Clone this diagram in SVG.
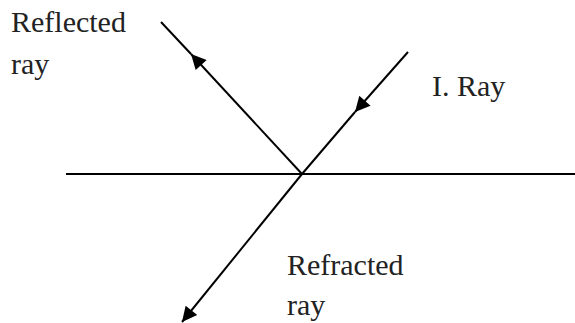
<svg xmlns="http://www.w3.org/2000/svg" width="575" height="323" viewBox="0 0 575 323">
  <style>
    .ray { stroke: #000; stroke-width: 2; fill: none; }
    .surface { stroke: #000; stroke-width: 2.2; fill: none; }
    text { font-family: "Liberation Serif", serif !important; font-size: 30px; fill: #222; }
  </style>
  <defs>
    <marker id="arrow" viewBox="0 0 10 10" refX="10" refY="5" markerUnits="userSpaceOnUse" markerWidth="19" markerHeight="15" orient="auto">
      <path d="M0,0 L10,5 L0,10 z" fill="#000"/>
    </marker>
  </defs>
  <rect width="575" height="323" fill="#fff"/>
  <g id="surface">
    <line class="surface" x1="66" y1="174" x2="575" y2="174"/>
  </g>
  <g id="connectors">
    <line class="ray" x1="408" y1="52" x2="355" y2="112" marker-end="url(#arrow)"/>
    <line class="ray" x1="355" y1="112" x2="302" y2="174"/>
    <line class="ray" x1="302" y1="174" x2="191" y2="54" marker-end="url(#arrow)"/>
    <line class="ray" x1="191" y1="54" x2="161" y2="22"/>
    <line class="ray" x1="302" y1="174" x2="182" y2="322" marker-end="url(#arrow)"/>
  </g>
  <g id="label-reflected">
    <text x="11" y="32" font-family="Liberation Serif">Reflected</text>
    <text x="11" y="74" font-family="Liberation Serif">ray</text>
  </g>
  <g id="label-incident">
    <text x="432" y="96" font-family="Liberation Serif">I. Ray</text>
  </g>
  <g id="label-refracted">
    <text x="287" y="275" font-family="Liberation Serif">Refracted</text>
    <text x="287" y="315" font-family="Liberation Serif">ray</text>
  </g>
</svg>
